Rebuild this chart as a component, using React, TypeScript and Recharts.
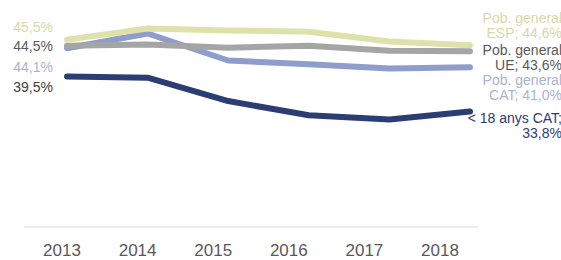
import React from 'react';
import { LineChart, Line, XAxis, YAxis } from 'recharts';

// values (percent)
const years = ['2013', '2014', '2015', '2016', '2017', '2018'];
const popESP = [45.5, 47.3, 47.0, 46.8, 45.2, 44.6];
const popUE = [44.5, 44.7, 44.2, 44.5, 43.7, 43.6];
const popCAT = [44.1, 46.5, 42.1, 41.5, 40.8, 41.0];
const under18CAT = [39.5, 39.3, 35.5, 33.2, 32.5, 33.8];

const chartData = years.map((year, i) => ({
  year,
  esp: popESP[i],
  ue: popUE[i],
  cat: popCAT[i],
  u18: under18CAT[i],
}));

const fmt = (v: number) => v.toFixed(1).replace('.', ',') + '%';

interface SeriesCfg {
  key: string;
  color: string;
  startColor: string;
  endColor: string;
  startDy: number;
  endDy: number;
  endLines: (v: number) => string[];
}

// drawing order: first is at the bottom
const series: SeriesCfg[] = [
  {
    key: 'u18', color: '#2c3d73', startColor: '#404040', endColor: '#2c3d73',
    startDy: 11, endDy: 14,
    endLines: (v) => ['< 18 anys CAT;', fmt(v)],
  },
  {
    key: 'cat', color: '#8f9dcc', startColor: '#a9b3d0', endColor: '#a9b3d0',
    startDy: 19, endDy: 20,
    endLines: (v) => ['Pob. general', 'CAT; ' + fmt(v)],
  },
  {
    key: 'ue', color: '#a5a5a5', startColor: '#595959', endColor: '#595959',
    startDy: 0, endDy: 6,
    endLines: (v) => ['Pob. general', 'UE; ' + fmt(v)],
  },
  {
    key: 'esp', color: '#dfe1aa', startColor: '#d6d9a6', endColor: '#d6d9a6',
    startDy: -13, endDy: -20,
    endLines: (v) => ['Pob. general', 'ESP; ' + fmt(v)],
  },
];

const FONT = "'Liberation Sans', Arial, sans-serif";
const LAST = years.length - 1;

const makeLabel = (cfg: SeriesCfg) => (props: any) => {
  const { y, index, value } = props;
  if (index === 0) {
    return (
      <text x={53} y={y + cfg.startDy} dy="0.35em" textAnchor="end"
        fill={cfg.startColor} fontFamily={FONT} fontSize={14}>
        {fmt(value)}
      </text>
    );
  }
  if (index === LAST) {
    const lines = cfg.endLines(value);
    const cy = y + cfg.endDy;
    return (
      <text x={562} y={cy} textAnchor="end" fill={cfg.endColor}
        fontFamily={FONT} fontSize={14}>
        <tspan x={562} y={cy - 7.5} dy="0.35em">{lines[0]}</tspan>
        <tspan x={562} y={cy + 7.5} dy="0.35em">{lines[1]}</tspan>
      </text>
    );
  }
  return null;
};

export default function App() {
  return (
    <div style={{ position: 'absolute', left: 0, top: 0, width: 561, height: 260, background: '#fff' }}>
      <LineChart width={561} height={260} data={chartData}
        margin={{ top: 12, right: 83, bottom: 3, left: 24 }}>
        <XAxis xAxisId="labels" dataKey="year" height={30}
          padding={{ left: 38, right: 38 }}
          axisLine={{ stroke: '#d9d9d9', strokeWidth: 1 }} tickLine={false}
          tickMargin={11}
          tick={{ fill: '#595959', fontSize: 17, fontFamily: FONT }} />
        <XAxis xAxisId="data" dataKey="year" hide height={0} padding={{ left: 43, right: 8 }} />
        <YAxis hide domain={[15, 50]} />
        {series.map((s) => (
          <Line key={s.key} xAxisId="data" dataKey={s.key} type="linear"
            stroke={s.color} strokeWidth={6} strokeLinecap="round" strokeLinejoin="round"
            dot={false} activeDot={false} isAnimationActive={false}
            label={makeLabel(s)} />
        ))}
      </LineChart>
    </div>
  );
}
